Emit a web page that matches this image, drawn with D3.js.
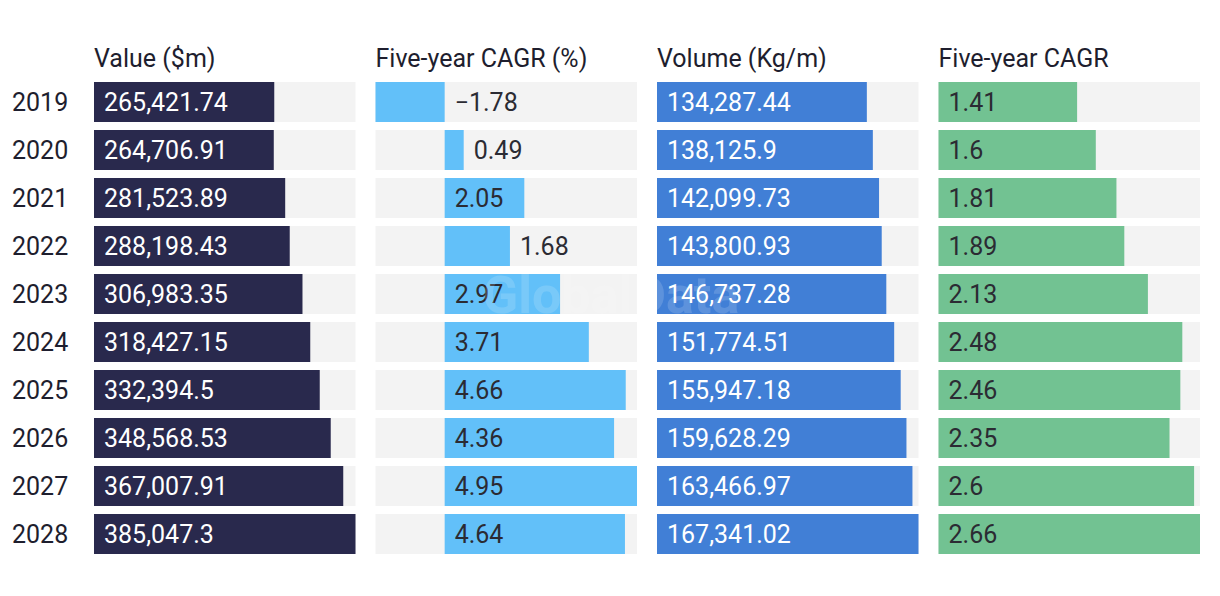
<!DOCTYPE html>
<html><head><meta charset="utf-8">
<script src="https://cdn.jsdelivr.net/npm/d3@7"></script>
<style>body{margin:0;background:#fff;} svg{display:block;}</style>
</head><body>
<svg id="c" width="1220" height="596"></svg>
<script>
const years = ["2019","2020","2021","2022","2023","2024","2025","2026","2027","2028"];
const valueM = [265421.74,264706.91,281523.89,288198.43,306983.35,318427.15,332394.5,348568.53,367007.91,385047.3];
const valueCagr = [-1.78,0.49,2.05,1.68,2.97,3.71,4.66,4.36,4.95,4.64];
const volume = [134287.44,138125.9,142099.73,143800.93,146737.28,151774.51,155947.18,159628.29,163466.97,167341.02];
const volumeCagr = [1.41,1.6,1.81,1.89,2.13,2.48,2.46,2.35,2.6,2.66];
const titles = ["Value ($m)","Five-year CAGR (%)","Volume (Kg/m)","Five-year CAGR"];
const colors = ["#29294d","#62c0f9","#417fd6","#72c292"];
const textColors = ["#ffffff","#2b2b33","#ffffff","#2b2b33"];
const series = [valueM, valueCagr, volume, volumeCagr];

const svg = d3.select("#c");
const font = "Roboto, 'Liberation Sans', sans-serif";
const fs = 25;
const left = 94, right = 1200, gap = 20;
const pw = (right - left - gap*3)/4;
const y = d3.scaleBand().domain(years).range([82, 82+48*10-8]).paddingInner(8/48).paddingOuter(0);

// year labels
svg.selectAll("text.yr").data(years).join("text").attr("class","yr")
  .attr("x",12).attr("y",d=>y(d)+y.bandwidth()/2).attr("dy","0.36em")
  .attr("font-family",font).attr("font-size",fs).attr("fill","#1e1e2e").text(d=>d);

series.forEach((vals,i)=>{
  const x0 = left + i*(pw+gap);
  const mn = Math.min(0, d3.min(vals)), mx = d3.max(vals);
  const x = d3.scaleLinear().domain([mn,mx]).range([x0, x0+pw]);
  const g = svg.append("g");
  g.append("text").attr("x",x0).attr("y",67).attr("font-family",font).attr("font-size",fs)
    .attr("fill","#1e1e2e").text(titles[i]);
  const rows = years.map((yr,j)=>({yr, v: vals[j]}));
  g.selectAll("rect.bg").data(rows).join("rect").attr("class","bg")
    .attr("x",x0).attr("width",pw).attr("y",d=>y(d.yr)).attr("height",y.bandwidth()).attr("fill","#f3f3f3");
  g.selectAll("rect.bar").data(rows).join("rect").attr("class","bar")
    .attr("x",d=>x(Math.min(0,d.v))).attr("width",d=>Math.abs(x(d.v)-x(0)))
    .attr("y",d=>y(d.yr)).attr("height",y.bandwidth()).attr("fill",colors[i]);
  const fmt = v => (v<0?"\u2212":"") + d3.format(",")(Math.abs(v));
  g.selectAll("text.lbl").data(rows).join("text").attr("class","lbl")
    .attr("y",d=>y(d.yr)+y.bandwidth()/2).attr("dy","0.36em")
    .attr("font-family",font).attr("font-size",fs).text(d=>fmt(d.v))
    .each(function(d){
      const t = d3.select(this);
      const w = this.getComputedTextLength();
      const bw = Math.abs(x(d.v)-x(0));
      if (d.v >= 0 && bw >= w + 25) {
        t.attr("x", x(0)+10).attr("fill", textColors[i]);
      } else if (d.v < 0) {
        t.attr("x", x(0)+10).attr("fill", "#2b2b33");
      } else {
        t.attr("x", x(d.v)+10).attr("fill", "#2b2b33");
      }
    });
});

// watermark
svg.append("text").attr("x",611).attr("y",313).attr("text-anchor","middle")
  .attr("font-family",font).attr("font-weight","bold").attr("font-size",52)
  .attr("fill","#ffffff").attr("opacity",0.15).text("GlobalData");
</script>
</body></html>
